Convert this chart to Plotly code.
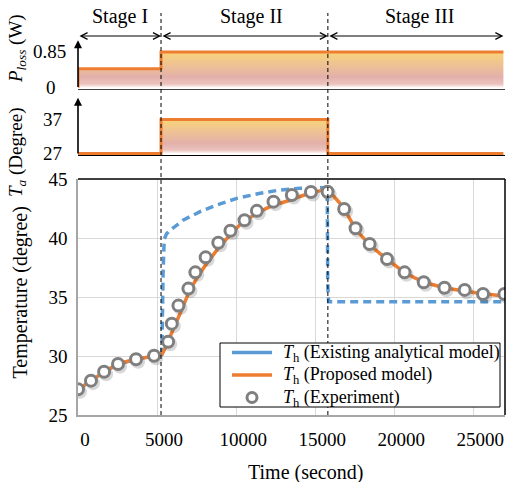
import plotly.graph_objects as go

W, H = 510, 482
FONT = "Liberation Serif"

# ---------------- data ----------------
stage_names = ["Stage I", "Stage II", "Stage III"]
stage_bounds = [0, 5250, 15800, 26900]

ploss_t = [0, 0, 5250, 5250, 26900]
ploss_v = [0, 0.45, 0.45, 0.85, 0.85]

ta_t = [0, 5250, 5250, 15800, 15800, 26900]
ta_v = [27, 27, 37, 37, 27, 27]

t_exp = [0, 820, 1650, 2530, 3670, 4810, 5700, 5930, 6350, 6980, 7420, 8070, 8870,
         9640, 10530, 11310, 12360, 13520, 14730, 15780, 16830, 17550, 18440, 19540,
         20650, 21860, 23170, 24450, 25610, 26960]
T_exp = [27.18, 27.91, 28.67, 29.32, 29.72, 30.02, 31.21, 32.74, 34.27, 35.71, 37.09,
         38.36, 39.6, 40.62, 41.5, 42.3, 43.08, 43.64, 43.9, 43.92, 42.46, 40.82, 39.49,
         38.22, 37.09, 36.25, 35.79, 35.6, 35.25, 35.25]

t_prop = [0, 820, 1650, 2530, 3670, 4810, 5300, 5820, 6460, 7090, 7930, 8780, 9620,
          10460, 11520, 12150, 13420, 14680, 15700, 16200, 16830, 17550, 18440, 19540,
          20650, 21860, 23170, 24450, 25610, 27000]
T_prop = [27.15, 27.9, 28.65, 29.3, 29.72, 30.0, 30.15, 31.63, 33.62, 35.59, 37.43,
          38.98, 40.25, 41.38, 42.23, 42.65, 43.22, 43.79, 44.07, 43.5, 42.45, 40.8,
          39.45, 38.2, 37.1, 36.28, 35.8, 35.5, 35.28, 35.08]

t_exist = [0, 820, 1650, 2530, 3670, 4810, 5300, 5380, 5450, 5600, 5820, 6670, 7720,
           8780, 10040, 11520, 12780, 14050, 15320, 15760, 15790, 15850, 27000]
T_exist = [27.15, 27.9, 28.65, 29.3, 29.72, 30.0, 30.15, 37.0, 39.9, 40.35, 40.65,
           41.53, 42.23, 42.8, 43.36, 43.79, 44.07, 44.21, 44.26, 44.28, 36.0, 34.6, 34.6]

x_ticks = [0, 5000, 10000, 15000, 20000, 25000]
x_ticktext = ["0", "5000", "10000", "15000", "20000", "25000"]
y_ticks = [25, 30, 35, 40, 45]
ta_ticks = [27, 37]
ploss_ticks = [0, 0.85]

legend_names = ["<i>T</i><sub>h</sub> (Existing analytical model)",
                "<i>T</i><sub>h</sub> (Proposed model)",
                "<i>T</i><sub>h</sub> (Experiment)"]

ORANGE = "#ED7D31"
BLUE = "#5B9BD5"
GRAY = "#7F7F7F"

def py(p):  # pixel y -> paper
    return (H - p) / H

def px(p):
    return p / W

XDOM = [px(78), px(505)]
XR = [0, 27000]
YR = [25, 45]
YDOM = [py(415), py(179)]
# shadow offset (pixels) converted to axis units
SH_DX = 2.0 * (XR[1] - XR[0]) / (505 - 78)
SH_DY = 2.5 * (YR[1] - YR[0]) / (415 - 179)

fig = go.Figure()

grad = [[0, "rgba(255,250,248,1)"], [0.1, "#EBC3BE"], [0.3, "#E3B0AA"],
        [0.65, "#EFC293"], [1, "#F8D47A"]]

# P_loss panel
fig.add_trace(go.Scatter(x=ploss_t, y=ploss_v, mode="lines", xaxis="x3", yaxis="y3",
                         line=dict(color=ORANGE, width=3), fill="tozeroy",
                         fillgradient=dict(type="vertical", colorscale=grad, start=0, stop=0.85),
                         showlegend=False, hoverinfo="skip"))
# Ta panel
fig.add_trace(go.Scatter(x=ta_t, y=ta_v, mode="lines", xaxis="x2", yaxis="y2",
                         line=dict(color=ORANGE, width=3), fill="toself",
                         fillgradient=dict(type="vertical", colorscale=grad, start=27, stop=37),
                         showlegend=False, hoverinfo="skip"))

# main
fig.add_trace(go.Scatter(x=t_exist, y=T_exist, mode="lines", name=legend_names[0],
                         line=dict(color=BLUE, width=3.5, dash="8px,5px"),
                         showlegend=False))
fig.add_trace(go.Scatter(x=t_prop, y=T_prop, mode="lines", name=legend_names[1],
                         line=dict(color=ORANGE, width=3.5, shape="spline", smoothing=0.6),
                         showlegend=False))
# drop shadow of experiment markers (same data, axis shifted by a few pixels)
fig.add_trace(go.Scatter(x=t_exp, y=T_exp, mode="markers", xaxis="x4", yaxis="y4",
                         marker=dict(symbol="circle", size=14, color="rgba(60,60,60,0.2)",
                                     line=dict(width=0)),
                         showlegend=False, hoverinfo="skip"))
fig.add_trace(go.Scatter(x=t_exp, y=T_exp, mode="markers", xaxis="x5", yaxis="y5",
                         name=legend_names[2],
                         marker=dict(symbol="circle", size=11, color="white",
                                     line=dict(color=GRAY, width=3)),
                         showlegend=False))

annotations = []
shapes = []

# y tick labels for P_loss
for v in ploss_ticks:
    annotations.append(dict(x=px(68) if v else px(58), xref="paper", y=v, yref="y3",
                            text=str(v), showarrow=False, xanchor="right", yanchor="middle",
                            font=dict(size=19, family=FONT, color="black")))

# arrows on left axes
annotations.append(dict(x=0, y=1.13, xref="x3", yref="y3", ax=0, ay=-0.02, axref="x3", ayref="y3",
                        showarrow=True, arrowhead=2, arrowsize=1, arrowwidth=1.6,
                        arrowcolor="black", text=""))
annotations.append(dict(x=0, y=43.4, xref="x2", yref="y2", ax=0, ay=26.56, axref="x2", ayref="y2",
                        showarrow=True, arrowhead=2, arrowsize=1, arrowwidth=1.6,
                        arrowcolor="black", text=""))

# stage arrows and labels
label_px = [119.5, 251.5, 419]
for i, name in enumerate(stage_names):
    annotations.append(dict(x=stage_bounds[i + 1], y=py(36), xref="x", yref="paper",
                            ax=stage_bounds[i], ay=0, axref="x", ayref="pixel",
                            showarrow=True, arrowhead=5, arrowside="end+start",
                            arrowsize=1.3, arrowwidth=1, arrowcolor="black", text=""))
    annotations.append(dict(x=px(label_px[i]), y=py(17), xref="paper", yref="paper",
                            text=name, showarrow=False, xanchor="center", yanchor="middle",
                            font=dict(size=20, family=FONT, color="black")))

# axis titles
annotations.append(dict(x=px(17), y=py(49), xref="paper", yref="paper", textangle=-90,
                        text="<i>P</i><sub><i>loss</i></sub> (W)", showarrow=False,
                        xanchor="center", yanchor="middle",
                        font=dict(size=19, family=FONT, color="black")))
annotations.append(dict(x=px(17), y=py(152), xref="paper", yref="paper", textangle=-90,
                        text="<i>T</i><sub><i>a</i></sub> (Degree)", showarrow=False,
                        xanchor="center", yanchor="middle",
                        font=dict(size=19, family=FONT, color="black")))
annotations.append(dict(x=px(20), y=py(292.5), xref="paper", yref="paper", textangle=-90,
                        text="Temperature (degree)", showarrow=False,
                        xanchor="center", yanchor="middle",
                        font=dict(size=20, family=FONT, color="black")))
annotations.append(dict(x=px(305), y=py(472), xref="paper", yref="paper",
                        text="Time (second)", showarrow=False,
                        xanchor="center", yanchor="middle",
                        font=dict(size=20, family=FONT, color="black")))

# stage boundary dashed lines
for b in stage_bounds[1:3]:
    shapes.append(dict(type="line", x0=b, x1=b, xref="x", y0=py(415), y1=py(13), yref="paper",
                       line=dict(color="black", width=1, dash="4px,3px"), layer="above"))
# top & right frame of main plot
shapes.append(dict(type="line", x0=0, x1=1, y0=1, y1=1, xref="x domain", yref="y domain",
                   line=dict(color="black", width=1.5)))
shapes.append(dict(type="line", x0=1, x1=1, y0=0, y1=1, xref="x domain", yref="y domain",
                   line=dict(color="black", width=1.5)))

# ---- legend (drawn as a framed box) ----
shapes.append(dict(type="rect", xref="paper", yref="paper", x0=px(220), x1=px(500),
                   y0=py(407), y1=py(343), fillcolor="white",
                   line=dict(color="black", width=1), layer="above"))
leg_y = [352.5, 375, 397.5]
for i, (col, yy) in enumerate(zip([BLUE, ORANGE], leg_y[:2])):
    shapes.append(dict(type="line", xref="paper", yref="paper", x0=px(232), x1=px(272),
                       y0=py(yy), y1=py(yy), line=dict(color=col, width=3.5), layer="above"))
shapes.append(dict(type="circle", xref="paper", yref="paper", x0=px(247), x1=px(257),
                   y0=py(leg_y[2] + 5), y1=py(leg_y[2] - 5), fillcolor="white",
                   line=dict(color=GRAY, width=3), layer="above"))
for name, yy in zip(legend_names, leg_y):
    annotations.append(dict(x=px(281), y=py(yy + 0.5), xref="paper", yref="paper", text=name,
                            showarrow=False, xanchor="left", yanchor="middle", height=17,
                            valign="middle",
                            font=dict(size=18, family=FONT, color="black")))

tickfont = dict(size=19, family=FONT, color="black")

fig.update_layout(
    width=W, height=H, margin=dict(l=0, r=0, t=0, b=0, autoexpand=False),
    paper_bgcolor="white", plot_bgcolor="white",
    font=dict(family=FONT, color="black"), showlegend=False,
    xaxis=dict(domain=XDOM, range=XR, tickvals=x_ticks, ticktext=x_ticktext, showgrid=True,
               gridcolor="#D9D9D9", automargin=False,
               gridwidth=1, showline=True, linecolor="#A6A6A6", linewidth=1.5, zeroline=False,
               ticks="", tickfont=tickfont, ticklabelshift=7, ticklabelstandoff=6, anchor="y"),
    yaxis=dict(domain=YDOM, range=YR, tickvals=y_ticks, showgrid=True,
               gridcolor="#D9D9D9", gridwidth=1, showline=True, linecolor="#A6A6A6",
               linewidth=1.5, zeroline=False, ticks="", tickfont=tickfont, automargin=False,
               ticklabelstandoff=5, anchor="x"),
    xaxis4=dict(domain=XDOM, range=[XR[0] - SH_DX, XR[1] - SH_DX], overlaying="x",
                visible=False, automargin=False, anchor="y4"),
    yaxis4=dict(domain=YDOM, range=[YR[0] + SH_DY, YR[1] + SH_DY], overlaying="y",
                visible=False, automargin=False, anchor="x4"),
    xaxis5=dict(domain=XDOM, range=XR, overlaying="x", visible=False, automargin=False,
                anchor="y5"),
    yaxis5=dict(domain=YDOM, range=YR, overlaying="y", visible=False, automargin=False,
                anchor="x5"),
    xaxis2=dict(domain=XDOM, range=XR, matches="x", showticklabels=False, showgrid=False,
                automargin=False,
                showline=True, linecolor="black", linewidth=1.2, zeroline=False, anchor="y2"),
    yaxis2=dict(domain=[py(155), py(97)], range=[26.56, 43.6], tickvals=ta_ticks,
                showgrid=False, zeroline=False, showline=False, ticks="", tickfont=tickfont,
                automargin=False, ticklabelstandoff=15, anchor="x2"),
    xaxis3=dict(domain=XDOM, range=XR, matches="x", showticklabels=False, showgrid=False,
                automargin=False,
                showline=True, linecolor="#404040", linewidth=1.2, zeroline=False, anchor="y3"),
    yaxis3=dict(domain=[py(88.5), py(40)], range=[-0.02, 1.133], showticklabels=False,
                automargin=False,
                showgrid=False, zeroline=False, showline=False, ticks="", anchor="x3"),
    annotations=annotations, shapes=shapes,
)

fig.write_html("out.html", config={"displayModeBar": False},
               post_script="document.body.style.margin='0';document.body.style.padding='0';")
